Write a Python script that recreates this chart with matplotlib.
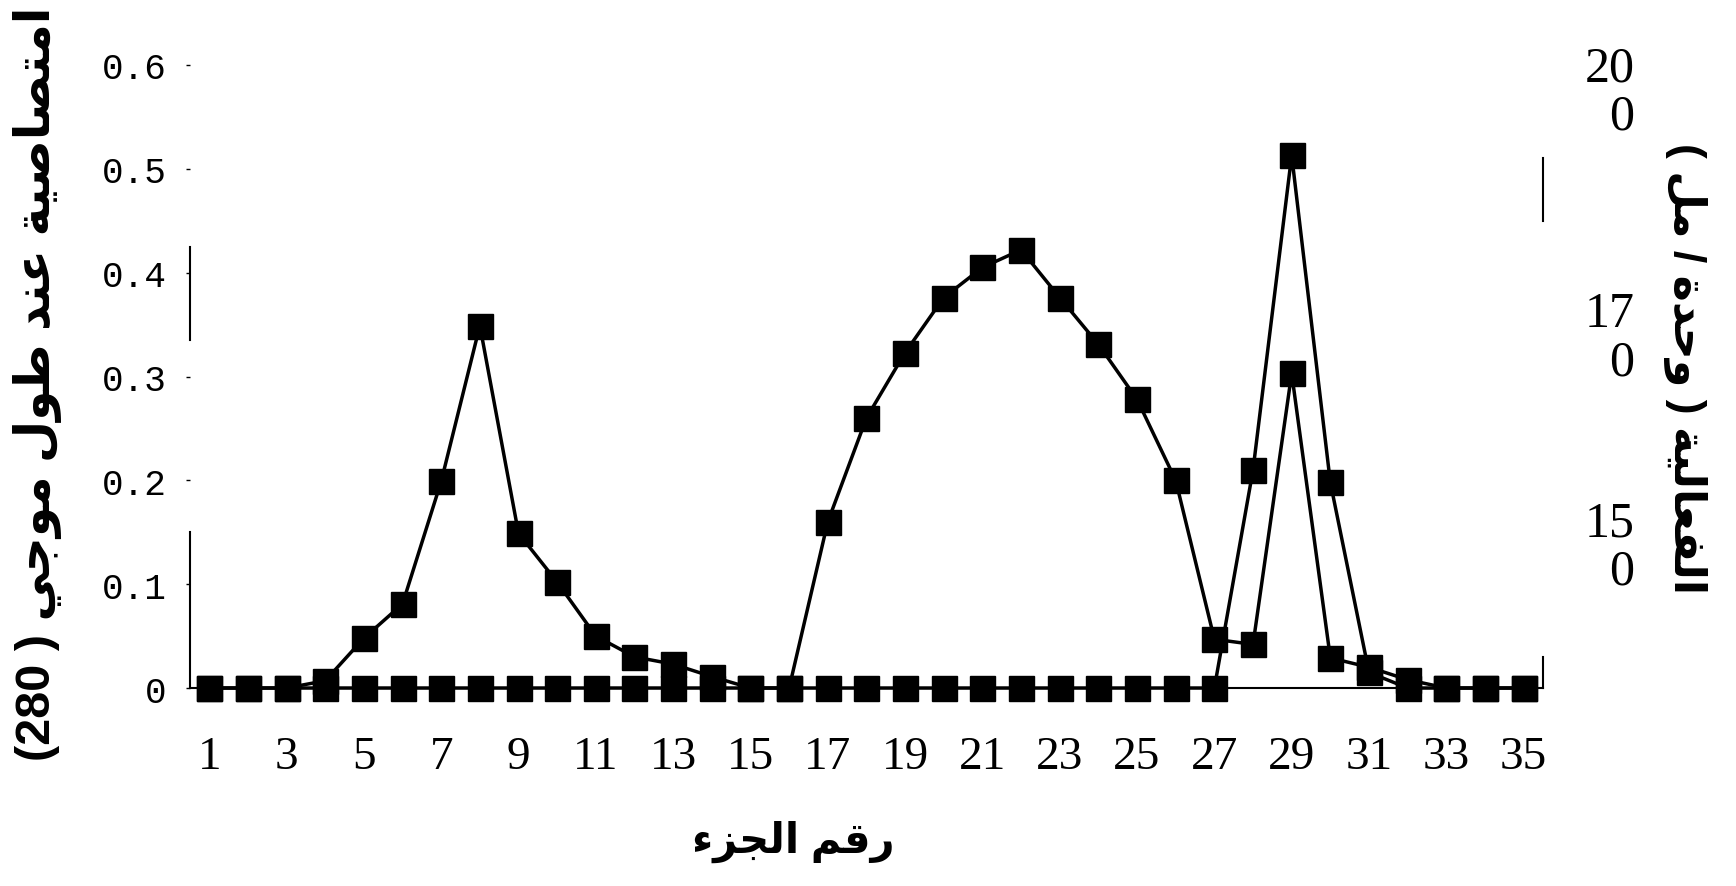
import matplotlib
matplotlib.use("Agg")
import matplotlib.pyplot as plt

# fraction number vs absorbance (280 nm) and enzyme activity
fractions = list(range(1, 36))
absorbance = [0, 0, 0, 0.007, 0.048, 0.081, 0.199, 0.349, 0.149, 0.102, 0.05, 0.03, 0.023, 0.011,
              0, 0, 0.16, 0.26, 0.323, 0.376, 0.405, 0.422, 0.376, 0.331, 0.278, 0.2,
              0.047, 0.042, 0.303, 0.029, 0.02, 0.008, 0, 0, 0]
activity = [0, 0, 0, 0, 0, 0, 0, 0, 0, 0, 0, 0, 0, 0, 0, 0, 0, 0, 0, 0, 0, 0, 0, 0, 0, 0,
            0, 0.21, 0.513, 0.198, 0.015, 0, 0, 0, 0]

x_ticks = list(range(1, 36, 2))
y_ticks = [0, 0.1, 0.2, 0.3, 0.4, 0.5, 0.6]
y_tick_labels = ["0", "0.1", "0.2", "0.3", "0.4", "0.5", "0.6"]
right_ticks = [0.58, 0.343, 0.142]
right_tick_labels = ["20\n0", "17\n0", "15\n0"]

# arabic labels written in visual order with presentation forms (no shaping in matplotlib)
xlabel = "ﺀﺰﺠﻟﺍ ﻢﻗﺭ"                              # رقم الجزء
ylabel_left = "(280 ) ﻲﺟﻮﻣ ﻝﻮﻃ ﺪﻨﻋ ﺔﻴﺻﺎﺼﺘﻣﺍ"      # امتصاصية عند طول موجي (280)
ylabel_right = "( ﻞﻣ / ﺓﺪﺣﻭ ) ﺔﻴﻟﺎﻌﻔﻟﺍ"           # الفعالية (وحدة / مل)

ar_font = ["Liberation Sans", "DejaVu Sans"]

fig = plt.figure(figsize=(17.36, 8.87), dpi=100)
ax = fig.add_axes([0.1094, 0.2232, 0.7794, 0.7024])

ax.plot(fractions, absorbance, color="black", lw=2.5, marker="s", ms=18, clip_on=False, zorder=3)
ax.plot(fractions, activity, color="black", lw=2.5, marker="s", ms=18, clip_on=False, zorder=3)

ax.set_xlim(0.5, 35.5)
ax.set_ylim(0, 0.6)

# broken-looking axis lines like the scanned original
ax.spines["top"].set_visible(False)
ax.spines["left"].set_bounds(0, 0.15)
ax.spines["right"].set_bounds(0.45, 0.51)
for s in ["left", "right", "bottom"]:
    ax.spines[s].set_linewidth(1.5)
ax.plot([0, 0], [0.335, 0.425], transform=ax.get_yaxis_transform(), color="black", lw=1.5, clip_on=False)
ax.plot([1, 1], [0, 0.03], transform=ax.get_yaxis_transform(), color="black", lw=1.5, clip_on=False)

ax.set_xticks(x_ticks)
ax.tick_params(axis="x", length=0, pad=34, labelsize=34)
for lab in ax.get_xticklabels():
    lab.set_fontfamily("Liberation Serif")

ax.set_yticks(y_ticks, y_tick_labels)
ax.tick_params(axis="y", direction="out", length=3, width=1, pad=14, labelsize=26)
for lab in ax.get_yticklabels():
    lab.set_fontfamily("Liberation Mono")

ax2 = ax.twinx()
ax2.set_ylim(0, 0.6)
for s in ax2.spines.values():
    s.set_visible(False)
ax2.set_yticks(right_ticks, right_tick_labels)
ax2.tick_params(axis="y", length=0, pad=30, labelsize=36)
for lab in ax2.get_yticklabels():
    lab.set_fontfamily("Liberation Serif")
    lab.set_multialignment("right")
    lab.set_linespacing(1.05)

ax.set_xlabel(xlabel, fontsize=30, family=ar_font, fontweight="bold")
ax.xaxis.set_label_coords(0.446, -0.245)
ax.xaxis.label.set_va("center")

ax.set_ylabel(ylabel_left, fontsize=35, family=ar_font, fontweight="bold")
ax.yaxis.set_label_coords(-0.113, 0.49)
ax.yaxis.label.set_va("center")

ax2.set_ylabel(ylabel_right, rotation=270, fontsize=32, family=ar_font, fontweight="bold")
ax2.yaxis.set_label_coords(1.105, 0.515)
ax2.yaxis.label.set_va("center")

fig.savefig("out.png", dpi=100, facecolor="white")
